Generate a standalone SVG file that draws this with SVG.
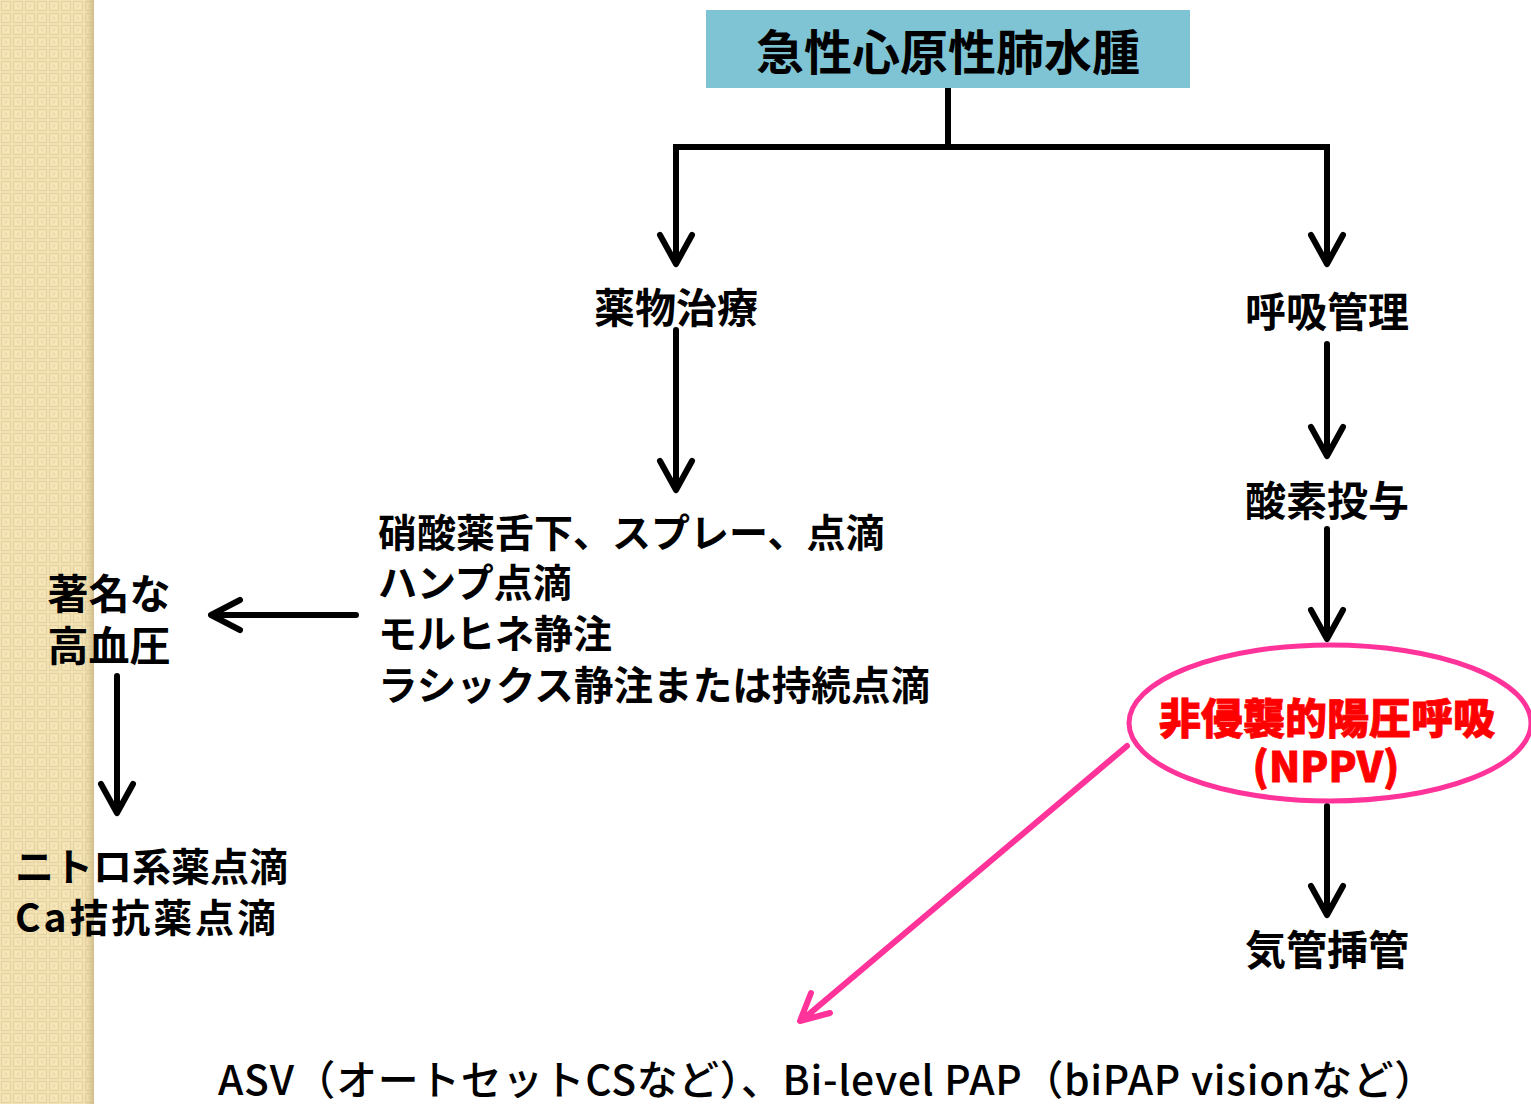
<svg xmlns="http://www.w3.org/2000/svg" width="1531" height="1104" viewBox="0 0 1531 1104">
<style>
.t{font-family:"Noto Sans CJK JP","Liberation Sans",sans-serif;font-weight:bold;fill:#000}
.c{text-anchor:middle}
.ln{stroke:#000;stroke-width:6;fill:none;stroke-linecap:round;stroke-linejoin:round}
.sq{stroke:#000;stroke-width:6;fill:none}
.pk{stroke:#ff3399;stroke-width:6;fill:none;stroke-linecap:round;stroke-linejoin:round}
.red{fill:#ff0000;stroke:#ff0000;stroke-width:0.8;font-weight:900}
</style>
<defs>
<pattern id="weave" width="12" height="12" patternUnits="userSpaceOnUse">
<rect width="12" height="12" fill="#f7e6b8"/>
<rect x="1.5" y="1.5" width="9" height="9" fill="none" stroke="#e6d3a2" stroke-width="1.5"/>
<rect x="4.5" y="4.5" width="3" height="3" fill="#ecdcae"/>
</pattern>
<linearGradient id="edge" x1="0" y1="0" x2="1" y2="0">
<stop offset="0" stop-color="#d9c592" stop-opacity="0"/>
<stop offset="1" stop-color="#c9b47e" stop-opacity="0.8"/>
</linearGradient>
</defs>
<rect width="1531" height="1104" fill="#fff"/>
<g id="background">
<rect x="0" y="0" width="94" height="1104" fill="url(#weave)"/>
<rect x="84" y="0" width="10" height="1104" fill="url(#edge)"/>
</g>
<g id="connectors">
<path class="sq" d="M948 88V147M673 147H1330"/>
<path class="ln" d="M676 147V263M660 235L676 264L692 235"/>
<path class="ln" d="M1327 147V263M1311 235L1327 264L1343 235"/>
<path class="ln" d="M676 330V489M660 461L676 490L692 461"/>
<path class="ln" d="M1327 344V455M1311 427L1327 456L1343 427"/>
<path class="ln" d="M1327 529V638M1311 610L1327 639L1343 610"/>
<path class="ln" d="M1327 806V914M1311 886L1327 915L1343 886"/>
<path class="ln" d="M356 615H212M240 600L211 615L240 630"/>
<path class="ln" d="M117 676V812M101 784L117 813L133 784"/>
<path class="pk" d="M1127 746L802 1020M811 993L800 1021L830 1013"/>
</g>
<g id="n-title">
<rect x="706" y="10" width="484" height="78" fill="#7fc4d4"/>
<text class="t c" x="948" y="70" font-size="48">急性心原性肺水腫</text>
</g>
<g id="n-yakubutsu"><text class="t c" x="676" y="323" font-size="41">薬物治療</text></g>
<g id="n-kokyu"><text class="t c" x="1327" y="327" font-size="41">呼吸管理</text></g>
<g id="n-sanso"><text class="t c" x="1327" y="516" font-size="41">酸素投与</text></g>
<g id="n-nppv">
<ellipse cx="1330" cy="723" rx="201" ry="78" fill="#fff" stroke="#ff3399" stroke-width="5"/>
<text class="t c red" x="1327" y="734" font-size="42">非侵襲的陽圧呼吸</text>
<text class="t c red" x="1326" y="782" font-size="41">(NPPV)</text>
</g>
<g id="n-kikan"><text class="t c" x="1327" y="965" font-size="41">気管挿管</text></g>
<g id="n-drugs">
<text class="t" x="378" y="547" font-size="39">硝酸薬舌下、スプレー、点滴</text>
<text class="t" x="378" y="597" font-size="39">ハンプ点滴</text>
<text class="t" x="378" y="648" font-size="39">モルヒネ静注</text>
<text class="t" x="378" y="700" font-size="39.5" textLength="552">ラシックス静注または持続点滴</text>
</g>
<g id="n-htn">
<text class="t c" x="109" y="609" font-size="41">著名な</text>
<text class="t c" x="109" y="661" font-size="41">高血圧</text>
</g>
<g id="n-nitro">
<text class="t" x="15" y="881" font-size="39">ニトロ系薬点滴</text>
<text class="t" x="15" y="932" font-size="39" textLength="261">Ca拮抗薬点滴</text>
</g>
<g id="n-asv">
<text class="t" x="218" y="1095" font-size="40.8" style="font-weight:500" textLength="1217" lengthAdjust="spacing">ASV（オートセットCSなど）、Bi-level PAP（biPAP visionなど）</text>
</g>
</svg>
